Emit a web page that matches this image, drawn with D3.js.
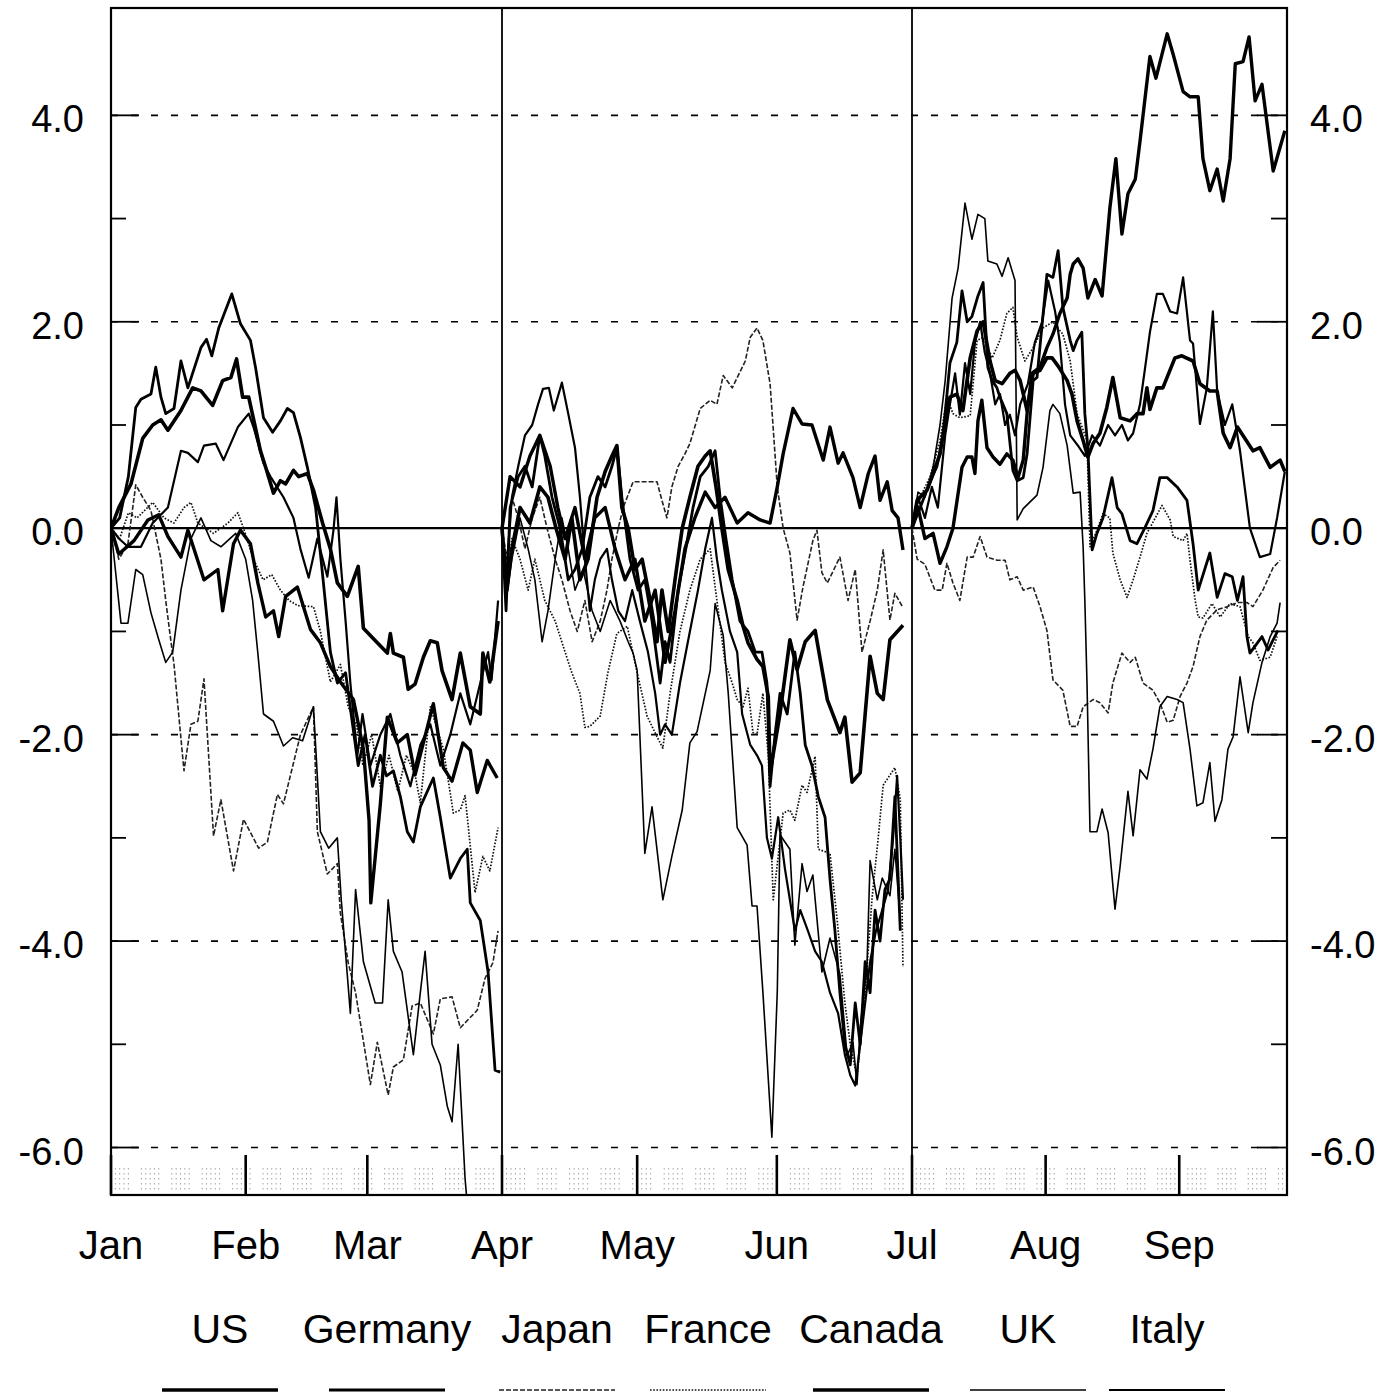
<!DOCTYPE html>
<html><head><meta charset="utf-8">
<script src="https://cdn.jsdelivr.net/npm/d3@7"></script>
<style>body{margin:0;background:#fff}text{font-family:"Liberation Sans",Arial,Helvetica,sans-serif;fill:#000}</style>
</head><body>
<svg id="chart" width="1397" height="1396"></svg>
<script>
// ---------- data ----------
const countries = ["US","Germany","Japan","France","Canada","UK","Italy"];
const monthLabels = ["Jan","Feb","Mar","Apr","May","Jun","Jul","Aug","Sep"];
const monthStartDays = [0,31,59,90,120,151,181,212,243];
const quarterBreakDays = [90,181];
const yMajorValues = [-6,-4,-2,0,2,4];
const yMajorLabels = ["-6.0","-4.0","-2.0","0.0","2.0","4.0"];
const yMinorValues = [-5,-3,-1,1,3];

// [day of year, cumulative change] — each quarter restarts at 0
const usQ1 = [[0,0],[1.8,0.2],[4.6,0.43],[7.3,0.87],[9.6,1.0],[11.5,1.05],[13.1,0.95],[16.1,1.14],[18.8,1.36],[20.7,1.33],[23.4,1.19],[25.7,1.43],[27.6,1.46],[28.9,1.64],[30.3,1.27],[31.7,1.27],[34.4,0.75],[35.6,0.59],[37.4,0.34],[39,0.46],[40.2,0.43],[42,0.56],[43.2,0.5],[45.2,0.53],[46.6,0.37],[48.7,0.05],[50.5,-0.2],[52.1,-0.53],[54.4,-0.66],[56.9,-0.37],[58.1,-0.97],[61.3,-1.11],[63.6,-1.21],[64.3,-1.02],[65,-1.21],[67.3,-1.25],[68.4,-1.56],[70,-1.51],[71.9,-1.25],[73.5,-1.09],[75.1,-1.11],[76.2,-1.38],[78.5,-1.66],[80.4,-1.21],[82.7,-1.73],[85,-1.8],[85.6,-1.21],[87.2,-1.49],[89.1,-0.9]];
const germanyQ1 = [[0,0],[2,0.1],[4,0.5],[5.7,1.17],[6.9,1.25],[9.2,1.3],[10.3,1.56],[11.5,1.27],[12.6,1.11],[14.5,1.16],[16.1,1.62],[17.7,1.36],[20.7,1.75],[22,1.83],[23.2,1.67],[24.8,1.94],[27.8,2.27],[29.8,1.98],[32.1,1.82],[33.3,1.55],[35.1,1.07],[37.2,0.93],[39,1.04],[40.6,1.16],[42,1.12],[43.6,0.88],[45.2,0.59],[47.1,0.2],[48.7,-0.45],[50.5,-1.2],[52.1,-1.5],[54,-1.4],[55.6,-1.9],[56.9,-2.3],[58.5,-2.0],[60.2,-2.5],[62,-2.2],[63.4,-2.4],[65,-2.35],[66.6,-2.6],[68.2,-2.94],[69.6,-3.04],[71.2,-2.7],[74.2,-2.42],[75.8,-2.8],[78.1,-3.39],[80.4,-3.2],[82,-3.11],[82.7,-3.63],[85,-3.8],[86.8,-4.3],[88.4,-5.25],[89.6,-5.27]];
const japanQ1 = [[0,0],[1.8,-0.3],[3.9,-0.15],[5.7,0.42],[7.3,0.3],[9.2,0.17],[11.5,-0.3],[12.6,-0.7],[13.5,-1.0],[14.5,-1.32],[16.8,-2.35],[18.4,-1.9],[20,-1.87],[21.4,-1.46],[23.6,-2.98],[25.3,-2.63],[28.2,-3.32],[30.5,-2.82],[34,-3.1],[36,-3.04],[38.3,-2.58],[39.7,-2.67],[43.6,-2.0],[46.6,-1.73],[47.5,-2.94],[49.8,-3.35],[52.1,-3.25],[52.8,-3.73],[54.6,-4.21],[56.3,-4.5],[59.7,-5.39],[61.3,-4.98],[63.8,-5.49],[65,-5.22],[67.3,-5.15],[69.3,-4.63],[71.2,-4.6],[74.2,-4.9],[75.8,-4.56],[78.5,-4.54],[80.4,-4.84],[82,-4.77],[84.3,-4.67],[86.1,-4.36],[87.9,-4.21],[89.1,-3.9]];
const franceQ1 = [[0,0],[2,-0.1],[4,0.15],[6,0.1],[9.6,0.25],[12.2,0.1],[14.5,0.05],[16.8,0.2],[18.4,0.25],[20,0.05],[23.6,-0.05],[26.9,0.05],[29.2,0.15],[30.5,0],[32.8,-0.3],[35,-0.5],[37,-0.45],[39,-0.6],[41,-0.7],[43,-0.75],[46.6,-0.76],[48.2,-1.0],[50.5,-1.49],[52.8,-1.32],[54.6,-1.73],[56.5,-1.9],[58,-2.3],[60,-2.0],[62,-2.5],[64,-2.2],[66,-2.55],[68,-2.2],[70,-2.39],[71.2,-2.66],[73.5,-1.73],[76.5,-2.14],[78.8,-2.76],[80.4,-2.73],[81.5,-2.59],[83.8,-3.53],[85.6,-3.18],[87.2,-3.32],[89.1,-2.9]];
const canadaQ1 = [[0,0],[1.8,-0.25],[5.3,-0.12],[8.5,0.08],[11,0.13],[13.1,-0.08],[16.1,-0.28],[17.7,-0.02],[21.4,-0.5],[24.6,-0.4],[25.7,-0.8],[28.2,-0.15],[29.8,-0.02],[32.1,-0.15],[33.8,-0.53],[35.6,-0.86],[37.4,-0.8],[38.6,-1.05],[40.2,-0.66],[42.9,-0.57],[45.9,-0.98],[48.2,-1.11],[50.5,-1.34],[52.8,-1.49],[55.8,-1.66],[58.1,-2.14],[59.4,-2.83],[59.8,-3.63],[62,-2.67],[63.6,-1.83],[65.9,-2.08],[68.2,-2.0],[70,-2.39],[71.9,-2.08],[74.2,-1.7],[76.5,-2.32],[78.5,-2.45],[81,-2.08],[82.7,-2.15],[84.3,-2.56],[86.6,-2.25],[88.9,-2.42]];
const ukQ1 = [[0,0],[2.3,-0.92],[3.9,-0.92],[5.7,-0.4],[7.3,-0.45],[9.2,-0.82],[11,-1.08],[12.6,-1.3],[14.2,-1.2],[16.1,-0.6],[18.4,-0.1],[20.7,0.1],[23,-0.12],[25.3,-0.18],[28.7,-0.05],[31,-0.3],[32.6,-0.7],[33.8,-1.21],[35.1,-1.8],[37.4,-1.87],[39.7,-2.11],[41.8,-2.03],[44.1,-2.06],[46.6,-1.73],[48.2,-2.94],[50.1,-3.1],[52.1,-3.0],[53,-3.6],[55.1,-4.7],[56.3,-3.5],[58.1,-4.2],[60.8,-4.6],[62.5,-4.6],[63.8,-3.6],[65,-4.1],[67,-4.3],[69.6,-5.1],[71.2,-4.5],[72.3,-4.1],[73.9,-5.0],[75.8,-5.2],[77.4,-5.6],[78.5,-5.75],[79.9,-5.0],[81.5,-6.3],[82.7,-6.9]];
const italyQ1 = [[0,0],[1.8,-0.1],[3.9,-0.18],[6.9,-0.18],[9.6,0.05],[13.1,0.2],[16.1,0.75],[17.7,0.73],[20,0.64],[21.4,0.8],[24.1,0.82],[25.9,0.66],[29.2,0.98],[31.7,1.11],[32.8,0.98],[35.1,0.63],[36.7,0.5],[39.7,0.3],[42,0.1],[43.6,-0.2],[45.5,-0.48],[47.5,-0.1],[49.8,-0.47],[51.2,-0.02],[51.9,0.3],[52.8,-0.3],[54,-0.9],[55.1,-1.5],[56.7,-2.2],[57.9,-1.8],[59.7,-2.3],[62,-2.0],[64.3,-1.8],[66.6,-2.2],[68.9,-2.5],[71.2,-2.1],[73.5,-1.9],[75.8,-2.3],[78.1,-2.0],[80.4,-1.6],[82.7,-1.9],[85,-1.5],[86.8,-1.2],[87.6,-1.47],[89.1,-0.7]];

const usQ2 = [[90,0],[91.1,-0.6],[92.2,-0.2],[94,0.2],[96.2,0.05],[98.4,0.4],[100.2,0.3],[102,0],[104,-0.3],[105.5,0.1],[107.3,-0.5],[109.1,-0.3],[111.1,0.3],[112.9,0.55],[114.4,0.7],[115.5,0.8],[116.6,0.2],[118,0],[119.5,-0.4],[121.1,-0.3],[122.9,-0.7],[124.4,-1.1],[125.5,-0.6],[126.9,-1.0],[128.4,-0.5],[130,0],[131.7,0.3],[133.5,0.6],[135.1,0.7],[136.2,0.75],[137.5,0.4],[138.8,0],[140.2,-0.4],[142.2,-0.7],[143.5,-0.95],[144.6,-1.11],[146.6,-1.27],[147.9,-1.34],[149.1,-1.63],[149.5,-2.37],[151.7,-1.8],[153.9,-1.08],[155.5,-1.37],[157.3,-1.1],[159.5,-0.99],[162.2,-1.66],[165,-1.98],[166.1,-1.83],[167.7,-2.46],[169.5,-2.37],[171.7,-1.24],[173.3,-1.6],[174.6,-1.66],[176.1,-1.08],[179,-0.94]];
const germanyQ2 = [[90,0],[90.9,-0.8],[91.8,0.2],[93.6,0.5],[95.1,0.6],[96.7,0.4],[98.4,0.9],[99.5,0.7],[101.1,0.3],[102.9,0],[104.7,-0.5],[106.2,-0.4],[107.8,-0.2],[109.5,0.3],[111.3,0.5],[112.9,0.4],[114.4,0.6],[115.5,0.78],[116.6,0.3],[118.4,-0.3],[120.2,-0.6],[121.7,-0.5],[123.3,-0.9],[125.1,-1.5],[126.2,-1.1],[127.3,-1.3],[129.1,-0.6],[130.8,-0.2],[132.4,0.2],[134,0.5],[135.8,0.6],[137.3,0.75],[138.4,0.3],[139.7,-0.1],[141.1,-0.5],[142.8,-0.9],[144.6,-1.0],[146.2,-1.2],[147.7,-1.2],[148.8,-1.5],[149.5,-2.5],[150.6,-2.0],[151.7,-1.6],[153.3,-1.8],[155,-1.2],[156.2,-1.6],[157.3,-2.1],[158.8,-2.3],[160.2,-2.6],[161.7,-2.8],[162.8,-3.4],[163.9,-3.9],[165,-4.5],[166.1,-5.0],[167.3,-5.2],[168.4,-4.6],[169.5,-5.0],[170.6,-4.2],[171.7,-4.5],[172.8,-3.7],[173.9,-4.0],[175,-3.5],[176.1,-3.4],[177.2,-2.6],[178.4,-3.9]];
const japanQ2 = [[90,0],[91.1,-0.3],[92.2,0.3],[93.6,0.1],[95.1,-0.2],[96.7,0.1],[98.4,0.3],[100,0],[101.8,-0.3],[103.3,-0.5],[105.1,-0.8],[106.7,-1.0],[108.4,-0.7],[110,-1.1],[111.8,-0.9],[113.3,-0.6],[114.4,-0.3],[115.8,0],[116.9,0.2],[119.1,0.45],[121.7,0.45],[124.4,0.45],[125.5,0.27],[126.6,0.1],[127.7,0.4],[129.1,0.6],[130.6,0.72],[131.7,0.82],[134,1.16],[136.2,1.24],[137.7,1.2],[139.1,1.48],[141.1,1.36],[144,1.62],[145.1,1.85],[146.6,1.94],[147.9,1.82],[149.5,1.4],[151.1,0.4],[152.4,0],[153.9,-0.24],[155.5,-0.89],[156.8,-0.57],[159,-0.12],[159.9,-0.02],[161,-0.43],[162.2,-0.53],[165,-0.28],[166.8,-0.7],[168.4,-0.4],[169.9,-1.2],[171.7,-0.9],[173.3,-0.6],[174.6,-0.21],[176.1,-0.89],[177.2,-0.63],[179,-0.77]];
const franceQ2 = [[90,0],[91.1,-0.5],[92.2,-0.1],[94,-0.3],[95.8,-0.6],[97.3,-0.3],[99.5,-0.7],[101.8,-0.9],[104,-1.2],[105.5,-1.4],[107.3,-1.6],[108.4,-1.93],[109.5,-1.92],[111.8,-1.82],[113.5,-1.4],[115.5,-1.02],[117.8,-0.95],[120,-1.4],[122.2,-1.82],[124.4,-2.02],[125.7,-2.13],[127.3,-1.6],[129.5,-1.0],[131.7,-0.6],[134,-0.3],[136.2,-0.2],[138,-0.8],[139.5,-1.3],[141.1,-1.5],[142.2,-1.66],[143.5,-1.73],[144.6,-1.55],[145.7,-1.98],[146.6,-2.0],[147.9,-1.6],[149.1,-2.2],[150.2,-3.6],[152.4,-2.76],[153.9,-2.73],[155,-2.83],[156.6,-2.49],[157.7,-2.56],[159.5,-2.21],[160.2,-3.11],[162.8,-3.15],[164.4,-3.8],[166.1,-4.6],[167.3,-5.0],[168.8,-5.32],[170.6,-4.5],[172.1,-3.6],[173.5,-3.0],[174.6,-2.49],[177.2,-2.32],[178.4,-2.63],[179,-4.25]];
const canadaQ2 = [[90,0],[91.8,0.5],[94,0.4],[96.2,0.7],[98.4,0.9],[100.7,0.6],[102.4,0.2],[104,-0.1],[106.2,0.2],[108.4,-0.3],[110.6,0.1],[112.9,0.2],[115.1,-0.2],[117.3,-0.5],[119.5,-0.3],[121.7,-0.9],[124,-0.6],[126.2,-1.3],[128.4,-0.8],[130.6,-0.2],[132.8,0.1],[135.1,0.35],[137.3,0.2],[139.5,0.3],[142.2,0.05],[144.6,0.15],[147.3,0.08],[149.5,0.05],[151.1,0.4],[152.4,0.72],[154.6,1.16],[156.6,1.01],[158.8,1.0],[161.3,0.66],[162.8,0.98],[164.6,0.63],[165.7,0.73],[167.9,0.49],[169.5,0.2],[171.3,0.53],[172.8,0.7],[173.9,0.27],[175.5,0.45],[176.6,0.17],[177.9,0.1],[179,-0.21]];
const ukQ2 = [[90,0],[90.9,-0.7],[92.2,-0.3],[94,0.1],[95.8,-0.2],[97.3,-0.5],[98.9,-1.1],[100.2,-0.8],[101.8,-0.3],[103.3,0.1],[104.7,-0.2],[106.2,-0.6],[108,-0.4],[110,-0.8],[111.8,-1.0],[114,-0.7],[116.2,-0.9],[118,-1.1],[119.1,-1.21],[120,-1.38],[121.7,-3.15],[123.3,-2.7],[125.7,-3.6],[127.7,-3.18],[130,-2.73],[131.7,-2.08],[133.3,-1.97],[136.2,-1.38],[137.3,-0.73],[139.1,-1.04],[140.2,-1.59],[142.2,-2.9],[144.4,-3.07],[145.5,-3.66],[146.6,-3.66],[147.9,-4.49],[149.9,-5.9],[151.1,-4.49],[151.7,-2.97],[153.9,-3.11],[155,-4.04],[156.6,-3.25],[157.7,-3.52],[159,-3.36],[161,-4.3],[162.8,-3.97],[165,-4.32],[166.6,-5.11],[167.9,-4.98],[168.8,-5.39],[169.5,-4.84],[171,-4.25],[171.7,-3.22],[173.3,-3.6],[174.4,-3.39],[176.1,-3.56],[177.2,-3.11],[178.4,-3.8]];
const italyQ2 = [[90,0],[90.9,-0.5],[92.2,0.3],[93.6,0.6],[95.1,0.9],[96.7,1.0],[98,1.2],[99.1,1.35],[100.4,1.36],[101.5,1.14],[103.3,1.41],[104.7,1.11],[106.2,0.78],[107.3,0.3],[108.4,-0.3],[109.5,-0.8],[110.6,-0.5],[111.8,-0.3],[113.3,-0.2],[114.4,-0.5],[115.8,-0.8],[117.3,-0.9],[118.9,-0.6],[120.6,-0.9],[122.4,-1.2],[124,-1.6],[125.1,-2.0],[126.2,-1.9],[127.7,-2.0],[129.5,-1.5],[131.7,-1.0],[133.5,-0.6],[135.1,-0.2],[136.6,0.1],[137.7,-0.3],[138.8,-0.6],[140.6,-1.0],[142.2,-1.2],[143.3,-1.8],[145.1,-2.1],[146.6,-2.2],[147.7,-2.3],[148.8,-3.0],[149.9,-3.2],[151.3,-2.8],[152.8,-3.3],[153.9,-3.6],[155,-3.9],[156.2,-3.7],[157.9,-3.9],[159.5,-4.1],[161,-4.2],[162.8,-4.5],[164.6,-4.7],[166.1,-5.1],[167.3,-5.3],[168.4,-5.4],[169.5,-5.0],[170.6,-4.6],[171.7,-4.2],[173,-3.9],[174.4,-3.7],[175.7,-3.5],[176.8,-3.0],[177.7,-2.4],[178.4,-3.0],[179,-3.6]];

const usQ3 = [[181,0],[182.2,0.27],[184.5,0.37],[185.9,0.53],[187.5,0.72],[189.1,1.14],[189.8,1.27],[191.4,1.3],[192.8,1.14],[194.5,1.65],[196.1,1.91],[197.5,2.0],[199.1,1.62],[200.3,1.43],[201.9,1.4],[203.7,1.5],[204.9,1.53],[206.1,1.43],[207.7,1.14],[209.1,1.5],[210.7,1.53],[212.3,1.65],[213.5,1.65],[214.9,1.57],[217,1.43],[218.1,1.3],[219.3,1.04],[220.7,0.85],[221.8,0.69],[223,0.82],[224.6,0.92],[226.2,1.17],[227.6,1.46],[229.3,1.07],[231.6,1.04],[233.2,1.11],[234.6,1.11],[235.5,1.36],[236.2,1.15],[237.8,1.36],[239.2,1.36],[242,1.65],[243.6,1.67],[246.2,1.62],[247.8,1.4],[250.1,1.33],[251.8,1.33],[253.2,0.92],[254.8,0.78],[256.5,0.98],[260.1,0.75],[261.7,0.78],[264.1,0.59],[266.4,0.66],[267.5,0.55]];
const germanyQ3 = [[181,0],[182.9,0.2],[185.2,0.45],[186.8,0.6],[188.2,0.9],[189.8,1.6],[191.4,1.8],[192.6,2.3],[193.8,2.0],[194.9,2.05],[196.3,2.25],[197.5,2.38],[198.6,1.56],[199.6,1.43],[200.7,1.36],[201.4,1.27],[203,1.11],[204.4,0.56],[205.4,0.46],[206.8,0.49],[207.7,0.72],[209.1,1.43],[210,1.46],[212.3,2.46],[213.7,2.43],[214.9,2.69],[216,2.14],[217.7,1.82],[218.4,1.72],[219.3,1.82],[220.4,1.9],[221.1,1.11],[221.8,0.78],[222.8,-0.21],[223.9,-0.05],[225.3,0.1],[227.4,0.49],[228.6,0.2],[229.7,0.14],[231.6,-0.12],[233.2,-0.15],[235.1,0.01],[236.9,0.17],[238.5,0.49],[240.2,0.49],[242.5,0.4],[244.8,0.27],[246.2,-0.15],[247.4,-0.6],[250.1,-0.24],[251.8,-0.67],[253.6,-0.44],[255.3,-0.47],[256.5,-0.7],[257.8,-0.47],[258.7,-1.05],[259.4,-1.21],[262.2,-1.05],[263.6,-1.18],[265.9,-0.99]];
const japanQ3 = [[181,0],[182.2,-0.3],[184,-0.35],[186.3,-0.6],[188,-0.6],[189.1,-0.34],[190.5,-0.53],[192.1,-0.7],[193.8,-0.28],[195.2,-0.28],[196.8,-0.08],[198.4,-0.28],[200.7,-0.31],[202.6,-0.31],[203.7,-0.5],[205.4,-0.47],[206.8,-0.6],[209.1,-0.57],[210.7,-0.76],[212.3,-0.99],[213.7,-1.47],[216,-1.57],[217.7,-1.92],[219.3,-1.92],[220.7,-1.73],[223,-1.66],[224.6,-1.69],[226.5,-1.79],[227.6,-1.5],[229.7,-1.21],[231.6,-1.3],[232.8,-1.25],[234.6,-1.5],[236.9,-1.57],[238.5,-1.69],[240.2,-1.88],[241.6,-1.86],[243.2,-1.63],[244.8,-1.5],[246.2,-1.34],[247.8,-1.05],[249.4,-0.89],[251.8,-0.79],[254.1,-0.76],[256.5,-0.72],[258.7,-0.72],[260.1,-0.76],[262.4,-0.6],[264.8,-0.38],[266.4,-0.31]];
const franceQ3 = [[181,0],[182.9,0.3],[185.2,0.5],[187.5,0.85],[189.1,1.27],[190.5,1.11],[192.1,1.07],[194.5,1.09],[196.1,1.82],[197.5,1.85],[199.6,1.65],[201.4,1.82],[203,2.08],[204.4,2.14],[205.4,1.85],[207.2,1.62],[209.1,1.75],[211.4,1.94],[213.7,2.0],[216,1.88],[217.7,1.62],[219.3,1.11],[221.6,0.85],[222.3,-0.18],[223.9,-0.02],[225.3,0.14],[226.9,0.1],[227.6,-0.24],[229.3,-0.5],[230.9,-0.67],[232.3,-0.5],[233.9,-0.28],[235.5,-0.05],[239,0.22],[240.9,0.08],[241.6,-0.08],[243.9,-0.12],[244.8,-0.05],[245.5,-0.31],[246.7,-0.7],[247.4,-0.86],[248.5,-0.87],[250.6,-0.73],[252.5,-0.86],[254.8,-0.73],[257.1,-0.76],[259,-1.05],[260.1,-1.11],[261.7,-1.28],[264.1,-1.25],[265.7,-1.05]];
const canadaQ3 = [[181,0],[182.4,0.2],[184,-0.1],[185.9,-0.05],[187.5,-0.34],[189.1,-0.18],[190.5,0],[192.6,0.59],[193.8,0.69],[194.9,0.69],[195.6,0.53],[196.3,1.04],[197.2,1.24],[198.4,0.78],[199.8,0.69],[201.4,0.62],[203,0.72],[204.4,0.66],[205.6,0.49],[206.8,0.66],[207.7,1.11],[208.8,1.5],[210.7,1.56],[212.3,1.75],[213.7,1.88],[215.3,2.08],[217,2.23],[217.7,2.46],[218.4,2.56],[219.5,2.61],[220.7,2.52],[221.8,2.23],[223.5,2.41],[225.1,2.25],[226.9,3.1],[228.3,3.58],[229.7,2.85],[231.1,3.24],[232.8,3.38],[233.9,3.75],[236.2,4.57],[237.6,4.36],[240.2,4.79],[241.6,4.59],[243.9,4.23],[245.5,4.18],[247.4,4.18],[248.5,3.58],[250.1,3.27],[251.8,3.48],[253.2,3.17],[254.8,3.58],[256,4.5],[257.8,4.52],[259.2,4.76],[260.6,4.14],[262.2,4.3],[264.8,3.46],[267.5,3.85]];
const ukQ3 = [[181,0],[182.4,0.35],[184,0.3],[185.9,0.59],[187.5,1.0],[188.7,1.43],[190.3,2.23],[191.7,2.52],[193.3,3.15],[194.9,2.8],[196.3,3.04],[197.9,3.0],[198.6,2.59],[200.7,2.56],[201.9,2.44],[203.3,2.62],[204.9,2.4],[205.4,0.08],[206.8,0.19],[210,0.32],[211.4,0.59],[213,1.14],[213.7,1.2],[215.3,1.11],[217,0.8],[218.4,0.34],[220,0.35],[220.7,-0.18],[221.1,-0.7],[221.6,-1.5],[222.3,-2.94],[223.9,-2.94],[225.1,-2.72],[226.5,-2.95],[228.1,-3.69],[229.3,-3.27],[231.1,-2.55],[232.3,-2.98],[233.9,-2.34],[235.5,-2.43],[236.9,-2.14],[238.5,-1.73],[240.2,-1.63],[242.5,-1.66],[243.9,-1.69],[245.5,-2.14],[247.1,-2.69],[248.5,-2.66],[250.1,-2.27],[251.3,-2.84],[252.9,-2.63],[254.3,-2.14],[255.5,-2.02],[257.1,-1.44],[259,-1.98],[260.1,-1.69],[262.2,-1.3],[264.1,-1.05],[265.7,-0.92],[266.4,-0.72]];
const italyQ3 = [[181,0],[182.4,0.3],[184,0.1],[185.6,0.4],[187,0.2],[188.7,0.9],[189.8,1.2],[191,1.5],[192.1,1.1],[193.3,1.6],[194.5,1.3],[195.6,1.8],[196.8,2.0],[197.9,1.7],[199.1,1.5],[200.3,1.2],[201.4,1.3],[202.6,1.0],[203.7,1.1],[204.9,0.9],[206.1,1.2],[207.9,1.4],[209.5,1.8],[211.2,2.0],[212.6,2.4],[214.2,2.1],[215.3,1.8],[216.5,1.2],[217.7,0.9],[219.5,0.8],[221.1,0.7],[222.8,0.9],[224.6,0.8],[226.5,1.0],[228.1,0.9],[229.7,1.0],[231.1,0.85],[232.3,0.92],[233.9,1.2],[235.1,1.56],[236.2,1.9],[237.8,2.27],[239.2,2.27],[240.9,2.1],[242.5,2.08],[243.9,2.43],[245.5,1.82],[246.2,1.79],[247.8,1.01],[249.4,1.36],[250.8,2.1],[251.8,1.33],[253.6,1.0],[255.3,1.2],[257.1,0.75],[259.4,0],[261.7,-0.28],[264.1,-0.25],[265.7,0.1],[267.5,0.55]];

const seriesByCountry = {
  US: [usQ1, usQ2, usQ3],
  Germany: [germanyQ1, germanyQ2, germanyQ3],
  Japan: [japanQ1, japanQ2, japanQ3],
  France: [franceQ1, franceQ2, franceQ3],
  Canada: [canadaQ1, canadaQ2, canadaQ3],
  UK: [ukQ1, ukQ2, ukQ3],
  Italy: [italyQ1, italyQ2, italyQ3]
};

// ---------- styles ----------
const lineStyle = {
  US:      {w: 3.6, dash: null,      color: "#000"},
  Germany: {w: 2.8, dash: null,      color: "#000"},
  Japan:   {w: 1.6, dash: "5,2",     color: "#222"},
  France:  {w: 1.7, dash: "1.6,1.6", color: "#111"},
  Canada:  {w: 3.4, dash: null,      color: "#000"},
  UK:      {w: 1.6, dash: null,      color: "#000"},
  Italy:   {w: 2.2, dash: null,      color: "#000"}
};
const drawOrder = ["Japan","France","UK","Italy","Germany","Canada","US"];

// ---------- layout ----------
const svg = d3.select("#chart");
const x = d3.scaleLinear().domain([0, 90, 181, 268]).range([111, 502, 912, 1287]);
const y = d3.scaleLinear().domain([-6.46, 5.04]).range([1195, 8]);
const X0 = x(0), X1 = x(268), Y0 = y(5.04), Y1 = y(-6.46);

svg.append("rect").attr("width",1397).attr("height",1396).attr("fill","#fff");

svg.append("defs").append("clipPath").attr("id","plotclip")
  .append("rect").attr("x",X0).attr("y",Y0).attr("width",X1-X0).attr("height",Y1-Y0);

const grid = svg.append("g");
yMajorValues.filter(v => v !== 0).forEach(v => {
  grid.append("line").attr("x1",X0).attr("x2",X1).attr("y1",y(v)).attr("y2",y(v))
    .attr("stroke","#000").attr("stroke-width",1.6).attr("stroke-dasharray","7,13");
});
grid.append("line").attr("x1",X0).attr("x2",X1).attr("y1",y(0)).attr("y2",y(0))
  .attr("stroke","#000").attr("stroke-width",2.2);

quarterBreakDays.forEach(d => {
  grid.append("line").attr("x1",x(d)).attr("x2",x(d)).attr("y1",Y0).attr("y2",Y1)
    .attr("stroke","#000").attr("stroke-width",1.8);
});

yMajorValues.forEach(v => {
  grid.append("line").attr("x1",X0).attr("x2",X0+28).attr("y1",y(v)).attr("y2",y(v)).attr("stroke","#000").attr("stroke-width",1.8);
  grid.append("line").attr("x1",X1-30).attr("x2",X1).attr("y1",y(v)).attr("y2",y(v)).attr("stroke","#000").attr("stroke-width",1.8);
});
yMinorValues.forEach(v => {
  grid.append("line").attr("x1",X0).attr("x2",X0+15).attr("y1",y(v)).attr("y2",y(v)).attr("stroke","#000").attr("stroke-width",1.8);
  grid.append("line").attr("x1",X1-16).attr("x2",X1).attr("y1",y(v)).attr("y2",y(v)).attr("stroke","#000").attr("stroke-width",1.8);
});

yMajorValues.forEach((v,i) => {
  svg.append("text").attr("x",X0-27).attr("y",y(v)+17).attr("text-anchor","end")
    .attr("font-size",38).text(yMajorLabels[i]);
  svg.append("text").attr("x",X1+23).attr("y",y(v)+17).attr("text-anchor","start")
    .attr("font-size",38).text(yMajorLabels[i]);
});

// bottom strip: trading-day ticks + month ticks
const strip = svg.append("g");
d3.range(0, 268).filter(d => d % 7 !== 5 && d % 7 !== 6).forEach(d => {
  strip.append("line").attr("x1",x(d)).attr("x2",x(d)).attr("y1",Y1-27).attr("y2",Y1-3)
    .attr("stroke","#9a9a9a").attr("stroke-width",0.9).attr("stroke-dasharray","1.5,3.5");
});
monthStartDays.forEach(d => {
  strip.append("line").attr("x1",x(d)).attr("x2",x(d)).attr("y1",Y1-40).attr("y2",Y1)
    .attr("stroke","#000").attr("stroke-width",2.6);
});

const line = d3.line().x(d => x(d[0])).y(d => y(d[1]));
const plot = svg.append("g").attr("clip-path","url(#plotclip)");
drawOrder.forEach(c => {
  const st = lineStyle[c];
  seriesByCountry[c].forEach(q => {
    plot.append("path").datum(q).attr("d", line)
      .attr("fill","none").attr("stroke",st.color).attr("stroke-width",st.w)
      .attr("stroke-linejoin","round").attr("stroke-linecap","butt")
      .attr("stroke-dasharray", st.dash);
  });
});

svg.append("rect").attr("x",X0).attr("y",Y0).attr("width",X1-X0).attr("height",Y1-Y0)
  .attr("fill","none").attr("stroke","#000").attr("stroke-width",2.2);

monthLabels.forEach((m,i) => {
  svg.append("text").attr("x",x(monthStartDays[i])).attr("y",1259).attr("text-anchor","middle")
    .attr("font-size",40).text(m);
});

const legendCenters = [220, 387, 557, 708, 871, 1028, 1167];
countries.forEach((c,i) => {
  const st = lineStyle[c];
  svg.append("text").attr("x",legendCenters[i]).attr("y",1343).attr("text-anchor","middle")
    .attr("font-size",41).text(c);
  svg.append("line").attr("x1",legendCenters[i]-58).attr("x2",legendCenters[i]+58)
    .attr("y1",1390).attr("y2",1390).attr("stroke",st.color)
    .attr("stroke-width",st.w).attr("stroke-dasharray",st.dash);
});
</script>
</body></html>
